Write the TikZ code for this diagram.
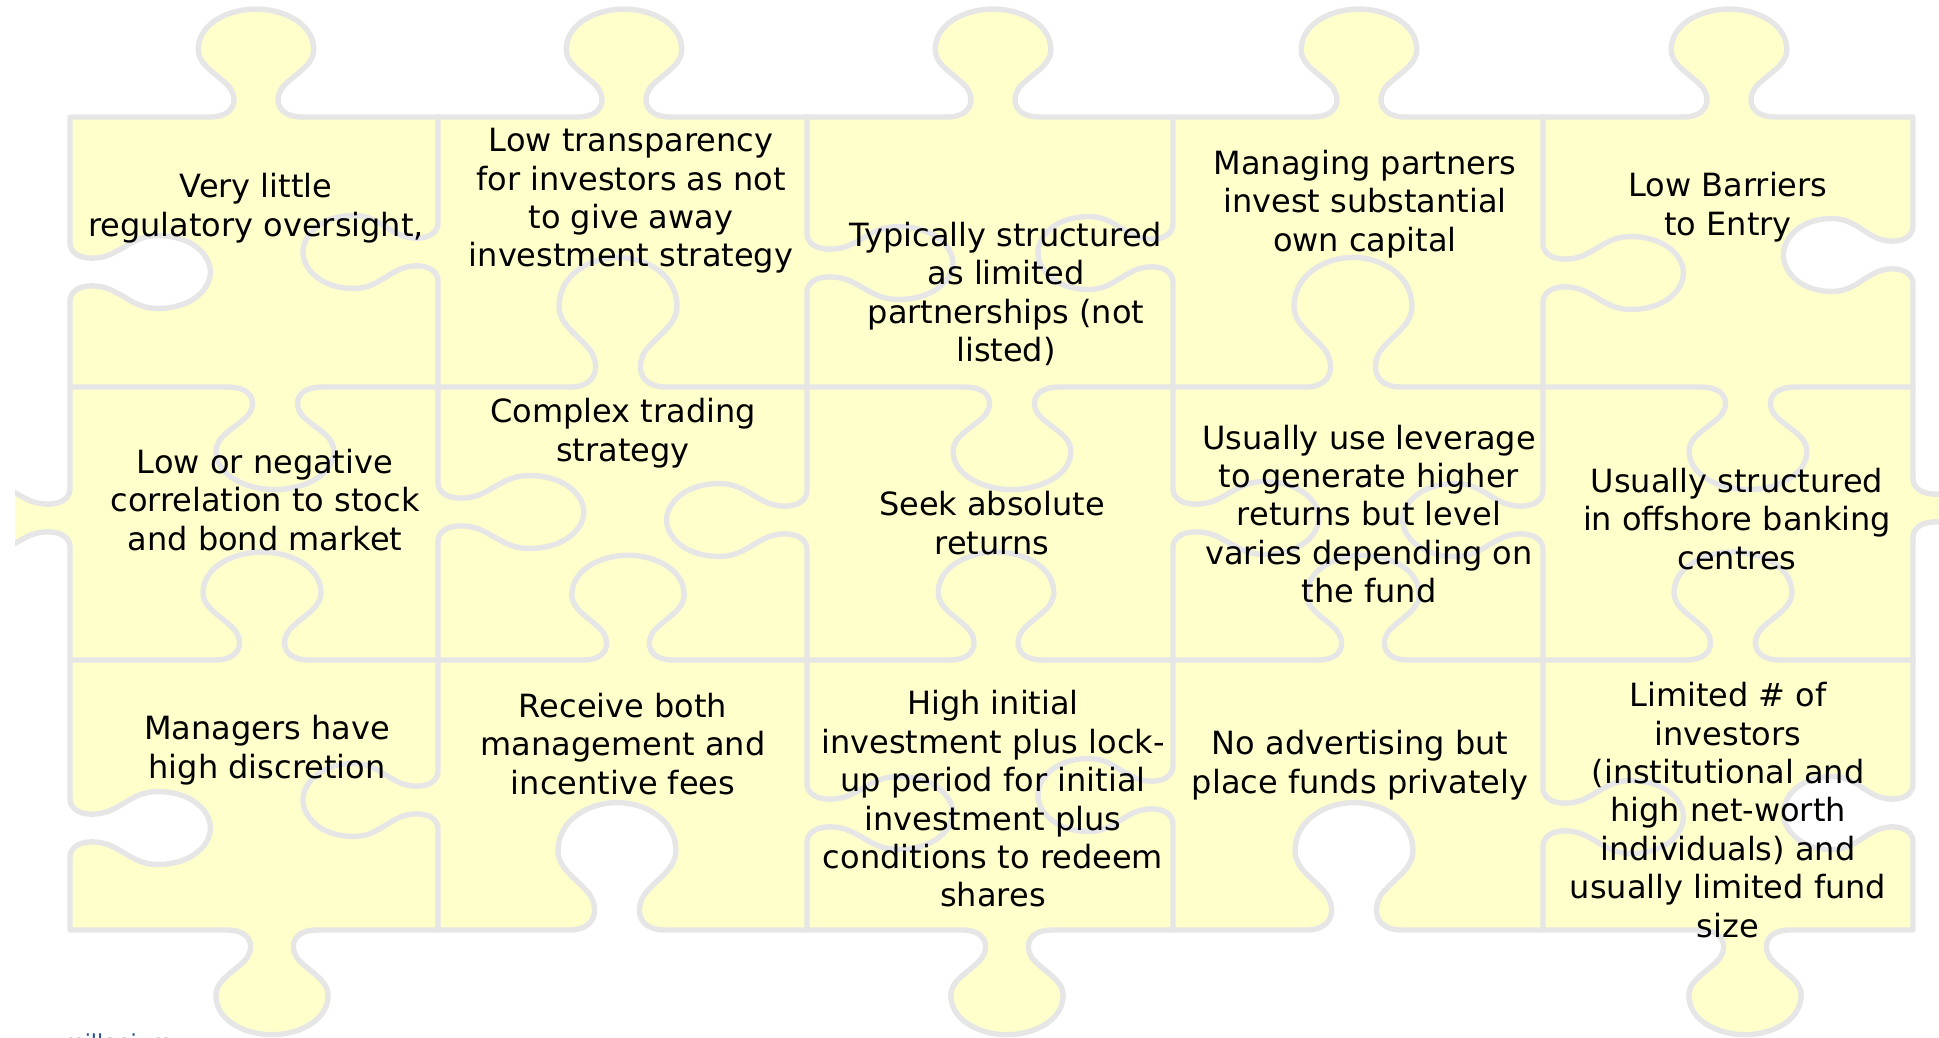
\documentclass[tikz,border=0pt]{standalone}
\usepackage{fontspec}
\setmainfont{DejaVu Sans}
\definecolor{piecefill}{HTML}{FFFFCC}
\definecolor{pieceline}{HTML}{E6E6E6}
\definecolor{logoblue}{HTML}{1F4E9A}

% Knob on a horizontal edge.
% #1 knob centre x, #2 edge y, #3 travel direction (+1 right, -1 left),
% #4 knob direction (+1 up, -1 down), #5 scale along the edge, #6 scale outwards
\newcommand\hk[6]{%
 -- ({#1+(#3)*#5*(-45)},{#2})
 .. controls ({#1+(#3)*#5*(-22)},{#2}) and ({#1+(#3)*#5*(-16)},{#2-(#4)*#6*16}) .. ({#1+(#3)*#5*(-26)},{#2-(#4)*#6*30})
 .. controls ({#1+(#3)*#5*(-38)},{#2-(#4)*#6*44}) and ({#1+(#3)*#5*(-58)},{#2-(#4)*#6*52}) .. ({#1+(#3)*#5*(-56)},{#2-(#4)*#6*70})
 .. controls ({#1+(#3)*#5*(-54)},{#2-(#4)*#6*95}) and ({#1+(#3)*#5*(-25)},{#2-(#4)*#6*108}) .. ({#1},{#2-(#4)*#6*108})
 .. controls ({#1+(#3)*#5*25},{#2-(#4)*#6*108}) and ({#1+(#3)*#5*54},{#2-(#4)*#6*95}) .. ({#1+(#3)*#5*56},{#2-(#4)*#6*70})
 .. controls ({#1+(#3)*#5*58},{#2-(#4)*#6*52}) and ({#1+(#3)*#5*38},{#2-(#4)*#6*44}) .. ({#1+(#3)*#5*26},{#2-(#4)*#6*30})
 .. controls ({#1+(#3)*#5*16},{#2-(#4)*#6*16}) and ({#1+(#3)*#5*22},{#2}) .. ({#1+(#3)*#5*45},{#2})}

% Knob on a vertical edge.
% #1 edge x, #2 knob centre y, #3 travel direction (+1 down, -1 up),
% #4 knob direction (+1 right, -1 left), #5 scale along the edge, #6 scale outwards
\newcommand\vk[6]{%
 -- ({#1},{#2+(#3)*#5*(-45)})
 .. controls ({#1},{#2+(#3)*#5*(-22)}) and ({#1+(#4)*#6*16},{#2+(#3)*#5*(-16)}) .. ({#1+(#4)*#6*30},{#2+(#3)*#5*(-26)})
 .. controls ({#1+(#4)*#6*44},{#2+(#3)*#5*(-38)}) and ({#1+(#4)*#6*52},{#2+(#3)*#5*(-58)}) .. ({#1+(#4)*#6*70},{#2+(#3)*#5*(-56)})
 .. controls ({#1+(#4)*#6*95},{#2+(#3)*#5*(-54)}) and ({#1+(#4)*#6*108},{#2+(#3)*#5*(-25)}) .. ({#1+(#4)*#6*108},{#2})
 .. controls ({#1+(#4)*#6*108},{#2+(#3)*#5*25}) and ({#1+(#4)*#6*95},{#2+(#3)*#5*54}) .. ({#1+(#4)*#6*70},{#2+(#3)*#5*56})
 .. controls ({#1+(#4)*#6*52},{#2+(#3)*#5*58}) and ({#1+(#4)*#6*44},{#2+(#3)*#5*38}) .. ({#1+(#4)*#6*30},{#2+(#3)*#5*26})
 .. controls ({#1+(#4)*#6*16},{#2+(#3)*#5*16}) and ({#1},{#2+(#3)*#5*22}) .. ({#1},{#2+(#3)*#5*45})}

\begin{document}
\begin{tikzpicture}[x=0.5pt,y=-0.5pt,
  piece/.style={fill=piecefill,draw=pieceline,line width=2.7pt,line join=round},
  seam/.style={draw=pieceline,line width=2.7pt,line join=round,line cap=round},
  lbl/.style={align=center,font=\fontsize{16}{19.2}\selectfont,inner sep=0pt,text=black}]
\useasboundingbox (0,0) rectangle (1939,1038);

\begin{scope}
\clip (15,0) rectangle (1939,1038);
% outline of the whole 5 x 3 puzzle
\path[piece] (70,117)
 \hk{256}{117}{1}{1}{1.03}{1}
 \hk{624}{117}{1}{1}{1.03}{1}
 \hk{993}{117}{1}{1}{1.03}{1}
 \hk{1359}{117}{1}{1}{1.03}{1}
 \hk{1729}{117}{1}{1}{1.03}{1}
 -- (1913,117)
 \vk{1913}{255}{1}{-1}{0.65}{1.2}
 \vk{1913}{508}{1}{1}{0.65}{1.35}
 \vk{1913}{813}{1}{-1}{0.65}{1.2}
 -- (1913,930)
 \hk{1745}{930}{-1}{-1}{1}{0.97}
 \hk{1354}{930}{-1}{1}{1.05}{1.18}
 \hk{1007}{930}{-1}{-1}{1}{0.97}
 \hk{617}{930}{-1}{1}{1.05}{1.18}
 \hk{272}{930}{-1}{-1}{1}{0.97}
 -- (70,930)
 \vk{70}{828}{-1}{1}{0.65}{1.3}
 \vk{70}{518}{-1}{-1}{0.65}{1.3}
 \vk{70}{272}{-1}{1}{0.65}{1.3}
 -- cycle;

% seams between the rows
\path[seam] (70,387)
 \hk{275}{387}{1}{-1}{1.05}{0.95}
 \hk{618}{387}{1}{1}{1.05}{1.2}
 \hk{1012}{387}{1}{-1}{1.05}{0.95}
 \hk{1353}{387}{1}{1}{1.05}{1.2}
 \hk{1748}{387}{1}{-1}{1.05}{0.95}
 -- (1913,387);
\path[seam] (70,660)
 \hk{262}{660}{1}{1}{1.05}{1}
 \hk{628}{660}{1}{1}{1.0}{0.97}
 \hk{996}{660}{1}{1}{1.03}{1}
 \hk{1363}{660}{1}{1}{1.0}{0.97}
 \hk{1733}{660}{1}{1}{1.05}{1}
 -- (1913,660);

% seams between the columns
\path[seam] (438,117)
 \vk{438}{252}{1}{-1}{0.65}{1.25}
 \vk{438}{512}{1}{1}{0.65}{1.35}
 \vk{438}{800}{1}{-1}{0.65}{1.25}
 -- (438,930);
\path[seam] (807,117)
 \vk{807}{263}{1}{1}{0.65}{1.35}
 \vk{807}{520}{1}{-1}{0.65}{1.3}
 \vk{807}{813}{1}{1}{0.65}{1.35}
 -- (807,930);
\path[seam] (1173,117)
 \vk{1173}{253}{1}{-1}{0.65}{1.25}
 \vk{1173}{518}{1}{1}{0.65}{1.35}
 \vk{1173}{795}{1}{-1}{0.65}{1.25}
 -- (1173,930);
\path[seam] (1543,117)
 \vk{1543}{273}{1}{1}{0.65}{1.3}
 \vk{1543}{520}{1}{-1}{0.65}{1.3}
 \vk{1543}{817}{1}{1}{0.65}{1.3}
 -- (1543,930);
\end{scope}

% texts on the pieces
\node[lbl] (t1) at (256,208) {Very little\\regulatory oversight,};
\node[lbl] (t2) at (631,201) {Low transparency\\for investors as not\\to give away\\investment strategy};
\node[lbl] (t3) at (1006,294) {Typically structured\\as limited\\partnerships (not\\listed)};
\node[lbl] (t4) at (1365,204) {Managing partners\\invest substantial\\own capital};
\node[lbl] (t5) at (1728,207) {Low Barriers\\to Entry};
\node[lbl] (t6) at (265,500) {Low or negative\\correlation to stock\\and bond market};
\node[lbl] (t7) at (623,433) {Complex trading\\strategy};
\node[lbl] (t8) at (992,523) {Seek absolute\\returns};
\node[lbl] (t9) at (1369,514) {Usually use leverage\\to generate higher\\returns but level\\varies depending on\\the fund};
\node[lbl] (t10) at (1737,519) {Usually structured\\in offshore banking\\centres};
\node[lbl] (t11) at (267,750) {Managers have\\high discretion};
\node[lbl] (t12) at (623,744) {Receive both\\management and\\incentive fees};
\node[lbl] (t13) at (993,799) {High initial\\investment plus lock-\\up period for initial\\investment plus\\conditions to redeem\\shares};
\node[lbl] (t14) at (1360,765) {No advertising but\\place funds privately};
\node[lbl] (t15) at (1728,810) {Limited \# of\\investors\\(institutional and\\high net-worth\\individuals) and\\usually limited fund\\size};

% logo text along the bottom margin
\node[anchor=base west,inner sep=0pt,text=logoblue,font=\fontsize{11}{13}\selectfont] (logo) at (63,1050) {millenium};
\end{tikzpicture}
\end{document}
